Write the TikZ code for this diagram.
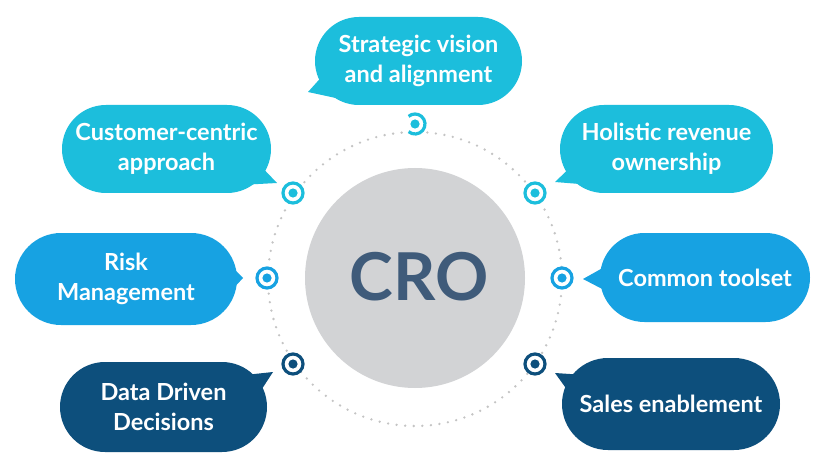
\documentclass[tikz,border=0pt]{standalone}
\usepackage{fontspec}
\setmainfont{Lato}
\usetikzlibrary{calc,shapes.misc}
\definecolor{cyanA}{HTML}{1CBEDC}
\definecolor{blueB}{HTML}{17A2E2}
\definecolor{darkC}{HTML}{0D4F7C}
\definecolor{grayC}{HTML}{D2D3D5}
\definecolor{dotG}{HTML}{C4C4C4}
\definecolor{croT}{HTML}{3F5B7A}
\begin{document}
\begin{tikzpicture}[x=1pt,y=-1pt,
  bubble/.style={shape=rounded rectangle, fill=#1, text=white, inner sep=0pt,
    align=center, font=\bfseries\fontsize{23.5}{30}\selectfont},
  ring/.style={circle, draw=#1, line width=3.2pt, fill=white, minimum size=20pt, inner sep=0pt},
  dotline/.style={dotG, line width=2.6pt, line cap=round, dash pattern=on 0pt off 8.6pt}
]
\useasboundingbox[fill=white] (0,0) rectangle (840,473);

% central circle and dotted orbit
\draw[dotline] (415,279) circle[radius=147];
\node[circle, fill=grayC, minimum size=220pt, inner sep=0pt] (cro) at (415,278) {};
\node[text=croT, font=\bfseries\fontsize{66}{66}\selectfont] (crotext) at (419,277) {CRO};

% bubbles
\node[bubble=cyanA, minimum width=207pt, minimum height=88pt] (sv) at (418.5,61) {Strategic vision\\and alignment};
\node[bubble=cyanA, minimum width=209pt, minimum height=88pt] (cc) at (166.5,149) {Customer-centric\\approach};
\node[bubble=cyanA, minimum width=213pt, minimum height=88pt] (ho) at (666.5,149) {Holistic revenue\\ownership};
\node[bubble=blueB, minimum width=222pt, minimum height=92pt] (rm) at (126,279) {Risk\\Management};
\node[bubble=blueB, minimum width=210pt, minimum height=89pt] (ct) at (705,277.5) {Common toolset};
\node[bubble=darkC, minimum width=207pt, minimum height=90pt] (dd) at (163.5,407) {Data Driven\\Decisions};
\node[bubble=darkC, minimum width=218pt, minimum height=92pt] (se) at (671,404) {Sales enablement};

% tails
\fill[cyanA] ($(sv.center)+(-92.5,11)$) -- ($(sv.center)+(-110.5,31)$) -- ($(sv.center)+(-73.5,39)$) -- cycle;
\fill[cyanA] ($(cc.center)+(88.5,11)$) -- ($(cc.center)+(110.5,34)$) -- ($(cc.center)+(73.5,36)$) -- cycle;
\fill[cyanA] ($(ho.center)+(-88.5,11)$) -- ($(ho.center)+(-111.5,33)$) -- ($(ho.center)+(-74.5,36)$) -- cycle;
\fill[blueB] ($(rm.center)+(104,-14)$) -- ($(rm.center)+(117,-1)$) -- ($(rm.center)+(104,13)$) -- cycle;
\fill[blueB] ($(ct.center)+(-97,-12.5)$) -- ($(ct.center)+(-122,1.5)$) -- ($(ct.center)+(-97,14.5)$) -- cycle;
\fill[darkC] ($(dd.center)+(81.5,-32)$) -- ($(dd.center)+(109.5,-35)$) -- ($(dd.center)+(94.5,-12)$) -- cycle;
\fill[darkC] ($(se.center)+(-86,-29)$) -- ($(se.center)+(-116,-31)$) -- ($(se.center)+(-98,-6)$) -- cycle;

% markers
\node[circle, fill=white, minimum size=24pt, inner sep=0pt] (m1) at (415,124) {};
\draw[cyanA, line width=3.2pt] ($(m1)+(130:10)$) arc[start angle=130, end angle=-130, radius=10];
\fill[cyanA] (m1) circle[radius=4.6];
\node[ring=cyanA] (m2) at (293,193) {};
\fill[cyanA] (m2) circle[radius=4.6];
\node[ring=cyanA] (m3) at (535,193) {};
\fill[cyanA] (m3) circle[radius=4.6];
\node[ring=blueB] (m4) at (267,278) {};
\fill[blueB] (m4) circle[radius=4.6];
\node[ring=blueB] (m5) at (562,278) {};
\fill[blueB] (m5) circle[radius=4.6];
\node[ring=darkC] (m6) at (293,364) {};
\fill[darkC] (m6) circle[radius=4.6];
\node[ring=darkC] (m7) at (535,364) {};
\fill[darkC] (m7) circle[radius=4.6];
\end{tikzpicture}
\end{document}
